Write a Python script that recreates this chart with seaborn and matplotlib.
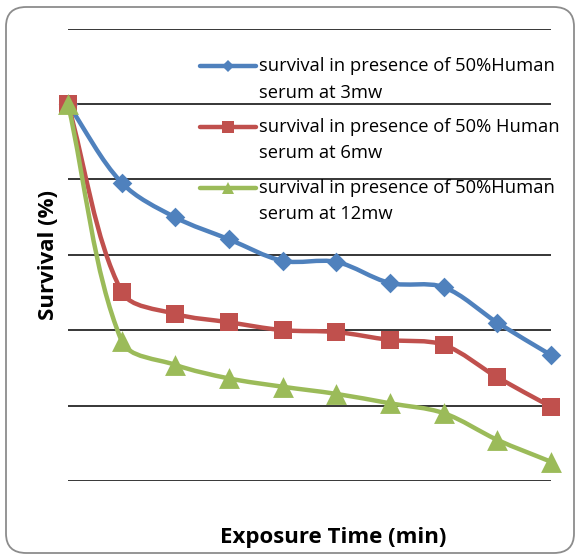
import numpy as np
import pandas as pd
import matplotlib
matplotlib.use("Agg")
import matplotlib.pyplot as plt
import seaborn as sns
from matplotlib.path import Path
from matplotlib.patches import PathPatch, FancyBboxPatch
from matplotlib.lines import Line2D

# ---- data ----
exposure = list(range(1, 11))
survival_3mw = [100, 79.1, 69.9, 64.1, 58.4, 58.1, 52.5, 51.4, 42.0, 33.4]
survival_6mw = [100, 50.2, 44.3, 42.1, 40.0, 39.5, 37.4, 36.1, 27.5, 19.7]
survival_12mw = [100, 37.1, 30.8, 27.2, 25.0, 23.1, 20.6, 18.0, 10.9, 5.1]
series_labels = [
    "survival in presence of 50%Human\nserum at 3mw",
    "survival in presence of 50% Human\nserum at 6mw",
    "survival in presence of 50%Human\nserum at 12mw",
]
x_title = "Exposure Time (min)"
y_title = "Survival (%)"

colors = ["#4F81BD", "#C0504D", "#9BBB59"]
markers = ["D", "s", "^"]
msizes = [10, 13, 15]
legend_msizes = [6, 9, 9]

sns.set_theme(style="white")
plt.rcParams["font.family"] = ["Open Sans", "DejaVu Sans"]
plt.rcParams["text.color"] = "black"

W, H = 579, 556
fig = plt.figure(figsize=(W / 100, H / 100), dpi=100)
ax = fig.add_axes([68 / W, 75 / H, 483 / W, 452.5 / H])
ax.set_xlim(1, 10)
ax.set_ylim(0, 120)
ax.set_yticks(np.arange(0, 121, 20))
ax.set_xticks([])
ax.tick_params(left=False, bottom=False, labelleft=False, labelbottom=False)
for s in ax.spines.values():
    s.set_visible(False)
ax.grid(axis="y", color="black", linewidth=1.1)
ax.set_axisbelow(True)


def smooth_path(x, y):
    """Excel-like smoothed curve: cubic Bezier with length-weighted tangents."""
    pts = np.column_stack([x, y]).astype(float)
    pix = ax.transData.transform(pts)
    inv = ax.transData.inverted()
    n = len(pix)
    dist = np.hypot(*np.diff(pix, axis=0).T)
    out_c, in_c = [], []
    for i in range(n):
        prev = pix[i - 1] if i > 0 else pix[i]
        nxt = pix[i + 1] if i < n - 1 else pix[i]
        tan = nxt - prev
        d_in = dist[i - 1] if i > 0 else 0.0
        d_out = dist[i] if i < n - 1 else 0.0
        tot = d_in + d_out
        out_c.append(pix[i] + tan * (d_out / tot) / 3.0)
        in_c.append(pix[i] - tan * (d_in / tot) / 3.0)
    verts = [pix[0]]
    codes = [Path.MOVETO]
    for i in range(n - 1):
        verts += [out_c[i], in_c[i + 1], pix[i + 1]]
        codes += [Path.CURVE4] * 3
    return Path(inv.transform(np.array(verts)), codes)


all_series = [survival_3mw, survival_6mw, survival_12mw]
for k, (vals, col, mk, ms) in enumerate(zip(all_series, colors, markers, msizes)):
    df = pd.DataFrame({"x": exposure, "y": vals})
    patch = PathPatch(smooth_path(df["x"], df["y"]), fill=False, edgecolor=col,
                      linewidth=3.2, zorder=3 + 2 * k, clip_on=False,
                      capstyle="round", joinstyle="round")
    ax.add_patch(patch)
    sns.scatterplot(data=df, x="x", y="y", ax=ax, marker=mk, s=ms ** 2, color=col,
                    linewidth=0, zorder=4 + 2 * k, clip_on=False, legend=False)

ax.set_xlabel("")
ax.set_ylabel("")

# ---- legend (handle aligned with first text line, as in the original) ----
entry_y = [66, 127, 188]
for lab, col, mk, lms, yy in zip(series_labels, colors, markers, legend_msizes, entry_y):
    fy = 1 - yy / H
    fig.add_artist(Line2D([200 / W, 256 / W], [fy, fy], transform=fig.transFigure,
                          color=col, linewidth=3.2, solid_capstyle="round"))
    fig.add_artist(Line2D([228 / W], [fy], transform=fig.transFigure, color=col,
                          marker=mk, markersize=lms, markeredgewidth=0, linestyle=""))
    for j, line in enumerate(lab.split("\n")):
        fig.text(259 / W, 1 - (yy + 26.5 * j) / H, line, ha="left", va="center",
                 fontsize=13.2, color="black")

fig.text(333 / W, 1 - 537 / H, x_title, ha="center", va="center",
         fontsize=16, fontweight="bold", color="black")
fig.text(48 / W, 1 - 255 / H, y_title, ha="center", va="center",
         fontsize=16, fontweight="bold", rotation=90, color="black")

border = FancyBboxPatch((6 / W, 3 / H), 568 / W, 546 / H,
                        boxstyle="round,pad=0,rounding_size=0.035",
                        transform=fig.transFigure, facecolor="none",
                        edgecolor="#8C8C8C", linewidth=1.3)
fig.patches.append(border)

fig.savefig("out.png", dpi=100)
